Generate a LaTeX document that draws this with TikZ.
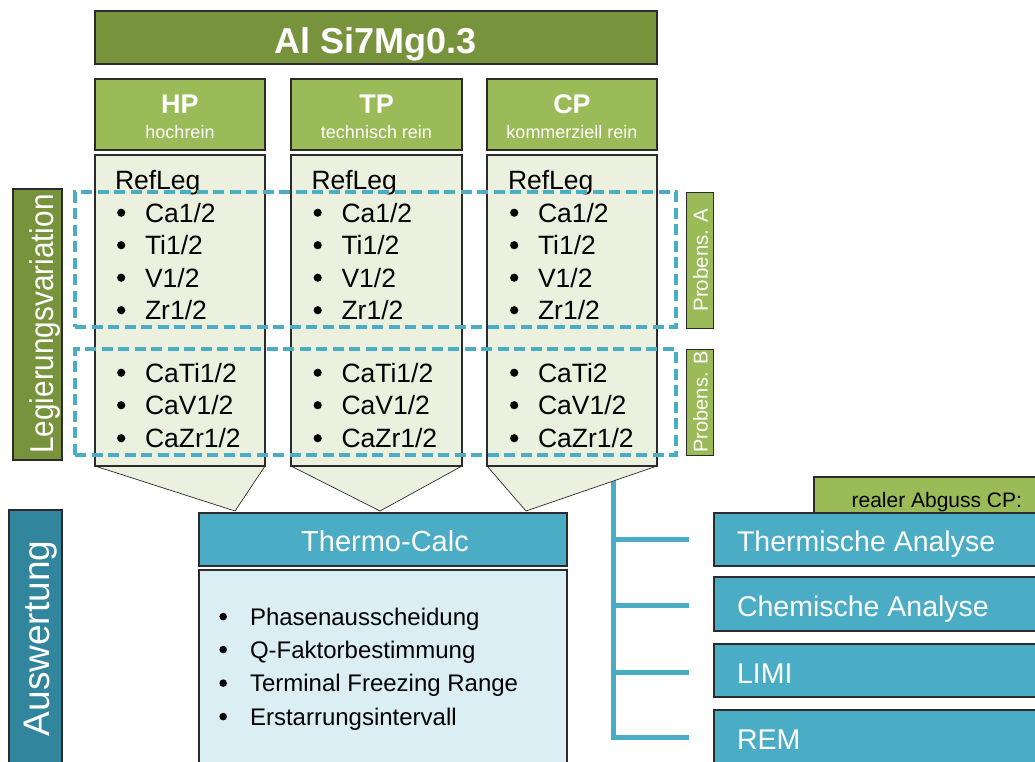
\documentclass[tikz,border=0pt]{standalone}
\usepackage{fontspec}
\setmainfont{Liberation Sans}
\definecolor{olived}{HTML}{77933C}
\definecolor{olivel}{HTML}{9BBB59}
\definecolor{olivebg}{HTML}{EBF1DE}
\definecolor{tealc}{HTML}{4BACC6}
\definecolor{tealdk}{HTML}{31859C}
\definecolor{lblue}{HTML}{DAEEF3}
\definecolor{bord}{HTML}{2B2B2B}
\newcommand{\bigdot}[2]{\raisebox{#2}{\tikz\fill[black] (0,0) circle (#1);}}
\newcommand{\itmb}{\makebox[28.5pt][l]{\hspace{0.6pt}\bigdot{4.1pt}{5.2pt}}}
\newcommand{\tcb}{\makebox[31pt][l]{\hspace{0.4pt}\bigdot{3.8pt}{4.6pt}}}
\begin{document}
\begin{tikzpicture}[x=1pt,y=-1pt,
  every node/.style={inner sep=0pt,outer sep=0pt},
  rbox/.style={draw=bord,line width=1.1pt,rectangle,anchor=north west},
  tri/.style={draw=bord,line width=0.7pt,fill=olivebg},
  itm/.style={anchor=base west,font=\fontsize{26.5pt}{30pt}\selectfont},
  tcitm/.style={anchor=base west,font=\fontsize{24pt}{28pt}\selectfont},
  dashbox/.style={draw=tealc,line width=3.5pt,dash pattern=on 11pt off 5.5pt,rectangle,anchor=north west},
  tree/.style={draw=tealc,line width=5pt},
  rtxt/.style={anchor=base west,text=white,font=\fontsize{28.5pt}{32pt}\selectfont},
]
\clip (0,0) rectangle (1035,761);
\useasboundingbox (0,0) rectangle (1035,761);

% tree connectors (drawn first, CP arrow covers top)
\coordinate (stem) at (613,470);
\coordinate (j1) at (613,539);
\coordinate (j2) at (613,605);
\coordinate (j3) at (613,672);
\coordinate (b1) at (689,539);
\coordinate (b2) at (689,605);
\coordinate (b3) at (689,672);
\coordinate (b4) at (689,737);
\draw[tree] (stem) |- (b4);
\draw[tree] (j1) -- (b1);
\draw[tree] (j2) -- (b2);
\draw[tree] (j3) -- (b3);

% title
\node[rbox,fill=olived,minimum width=562pt,minimum height=53pt] (title) at (95,11) {};
\node[anchor=base,text=white,font=\fontsize{36pt}{40pt}\selectfont\bfseries] (titletxt) at (376,53) {Al Si7Mg0.3};

% headers
\node[rbox,fill=olivel,minimum width=170pt,minimum height=71pt] (hph) at (95,79) {};
\node[rbox,fill=olivel,minimum width=171pt,minimum height=71pt] (tph) at (291,79) {};
\node[rbox,fill=olivel,minimum width=170pt,minimum height=71pt] (cph) at (487,79) {};
\node[anchor=base,text=white,font=\fontsize{27pt}{30pt}\selectfont\bfseries] (hpt) at (180,113) {HP};
\node[anchor=base,text=white,font=\fontsize{18pt}{20pt}\selectfont] (hps) at (180,138) {hochrein};
\node[anchor=base,text=white,font=\fontsize{27pt}{30pt}\selectfont\bfseries] (tpt) at (376.5,113) {TP};
\node[anchor=base,text=white,font=\fontsize{18pt}{20pt}\selectfont] (tps) at (376.5,138) {technisch rein};
\node[anchor=base,text=white,font=\fontsize{27pt}{30pt}\selectfont\bfseries] (cpt) at (572,113) {CP};
\node[anchor=base,text=white,font=\fontsize{18pt}{20pt}\selectfont] (cps) at (572,138) {kommerziell rein};

% bodies with arrow tips
\coordinate (hptip) at (235,511);
\coordinate (tptip) at (380,511);
\coordinate (cptip) at (526,511);
\node[rbox,fill=olivebg,minimum width=170pt,minimum height=311pt] (hpb) at (95,155) {};
\node[rbox,fill=olivebg,minimum width=171pt,minimum height=311pt] (tpb) at (291,155) {};
\node[rbox,fill=olivebg,minimum width=170pt,minimum height=311pt] (cpb) at (487,155) {};
\draw[tri] (hpb.south west) -- (hptip) -- (hpb.south east);
\draw[tri] (tpb.south west) -- (tptip) -- (tpb.south east);
\draw[tri] (cpb.south west) -- (cptip) -- (cpb.south east);
\draw[draw=bord,line width=1.1pt] (hpb.south west) -- (hpb.south east);
\draw[draw=bord,line width=1.1pt] (tpb.south west) -- (tpb.south east);
\draw[draw=bord,line width=1.1pt] (cpb.south west) -- (cpb.south east);

% list texts
\node[itm] (hpref) at (115,189) {RefLeg};
\node[itm] (tpref) at (311.5,189) {RefLeg};
\node[itm] (cpref) at (508,189) {RefLeg};
\foreach \x/\c in {116.5/hp,313/tp,509.5/cp}{
  \node[itm] (\c1) at (\x,222) {\itmb Ca1/2};
  \node[itm] (\c2) at (\x,254.5) {\itmb Ti1/2};
  \node[itm] (\c3) at (\x,287) {\itmb V1/2};
  \node[itm] (\c4) at (\x,319.5) {\itmb Zr1/2};
  \node[itm] (\c6) at (\x,414.5) {\itmb CaV1/2};
  \node[itm] (\c7) at (\x,447.5) {\itmb CaZr1/2};
}
\node[itm] (hp5) at (116.5,382) {\itmb CaTi1/2};
\node[itm] (tp5) at (313,382) {\itmb CaTi1/2};
\node[itm] (cp5) at (509.5,382) {\itmb CaTi2};

% dashed groups
\node[dashbox,minimum width=601pt,minimum height=135pt] (grpA) at (75,192) {};
\node[dashbox,minimum width=601pt,minimum height=106pt] (grpB) at (75,349) {};

% Probens labels
\node[rbox,fill=olivel,line width=0.9pt,minimum width=27pt,minimum height=136pt] (prA) at (686,192) {};
\node[rbox,fill=olivel,line width=0.9pt,minimum width=27pt,minimum height=106pt] (prB) at (686,349) {};
\node[rotate=90,text=white,font=\fontsize{20.5pt}{24pt}\selectfont] (prAt) at (700.5,260) {Probens. A};
\node[rotate=90,text=white,font=\fontsize{20pt}{24pt}\selectfont] (prBt) at (700.5,402) {Probens. B};

% left side labels
\node[rbox,fill=olived,minimum width=49pt,minimum height=271pt] (leg) at (13,189) {};
\node[rotate=90,text=white,font=\fontsize{33pt}{36pt}\selectfont] (legt) at (45,324) {\scalebox{0.9}[1]{Legierungsvariation}};
\node[rbox,fill=tealdk,minimum width=53pt,minimum height=265pt] (ausw) at (9,510) {};
\node[rotate=90,text=white,font=\fontsize{37pt}{40pt}\selectfont] (auswt) at (41,638.5) {Auswertung};

% Thermo-Calc
\node[rbox,fill=tealc,minimum width=368pt,minimum height=53pt] (tc) at (199,513) {};
\node[anchor=base,text=white,font=\fontsize{29pt}{32pt}\selectfont] (tct) at (385,551) {Thermo-Calc};
\node[rbox,fill=lblue,minimum width=368pt,minimum height=205pt] (tcd) at (199,570) {};
\node[tcitm] (tc1) at (219,625) {\tcb Phasenausscheidung};
\node[tcitm] (tc2) at (219,658) {\tcb Q-Faktorbestimmung};
\node[tcitm] (tc3) at (219,691.5) {\tcb Terminal Freezing Range};
\node[tcitm] (tc4) at (219,725) {\tcb Erstarrungsintervall};

% right side
\node[rbox,fill=olivel,minimum width=231pt,minimum height=45pt] (real) at (814,477) {};
\node[anchor=base east,font=\fontsize{21pt}{23pt}\selectfont] (realt) at (1022,507) {realer Abguss CP:};
\node[rbox,fill=tealc,minimum width=331pt,minimum height=53pt] (tha) at (714,513) {};
\node[rbox,fill=tealc,minimum width=331pt,minimum height=54pt] (cha) at (714,577) {};
\node[rbox,fill=tealc,minimum width=331pt,minimum height=53pt] (limi) at (714,644) {};
\node[rbox,fill=tealc,minimum width=331pt,minimum height=65pt] (rem) at (714,710) {};
\node[rtxt] (thatx) at (737,551) {Thermische Analyse};
\node[rtxt] (chatx) at (737,616) {Chemische Analyse};
\node[rtxt] (limitx) at (737,683) {LIMI};
\node[rtxt] (remtx) at (737,749) {REM};
\end{tikzpicture}
\end{document}
